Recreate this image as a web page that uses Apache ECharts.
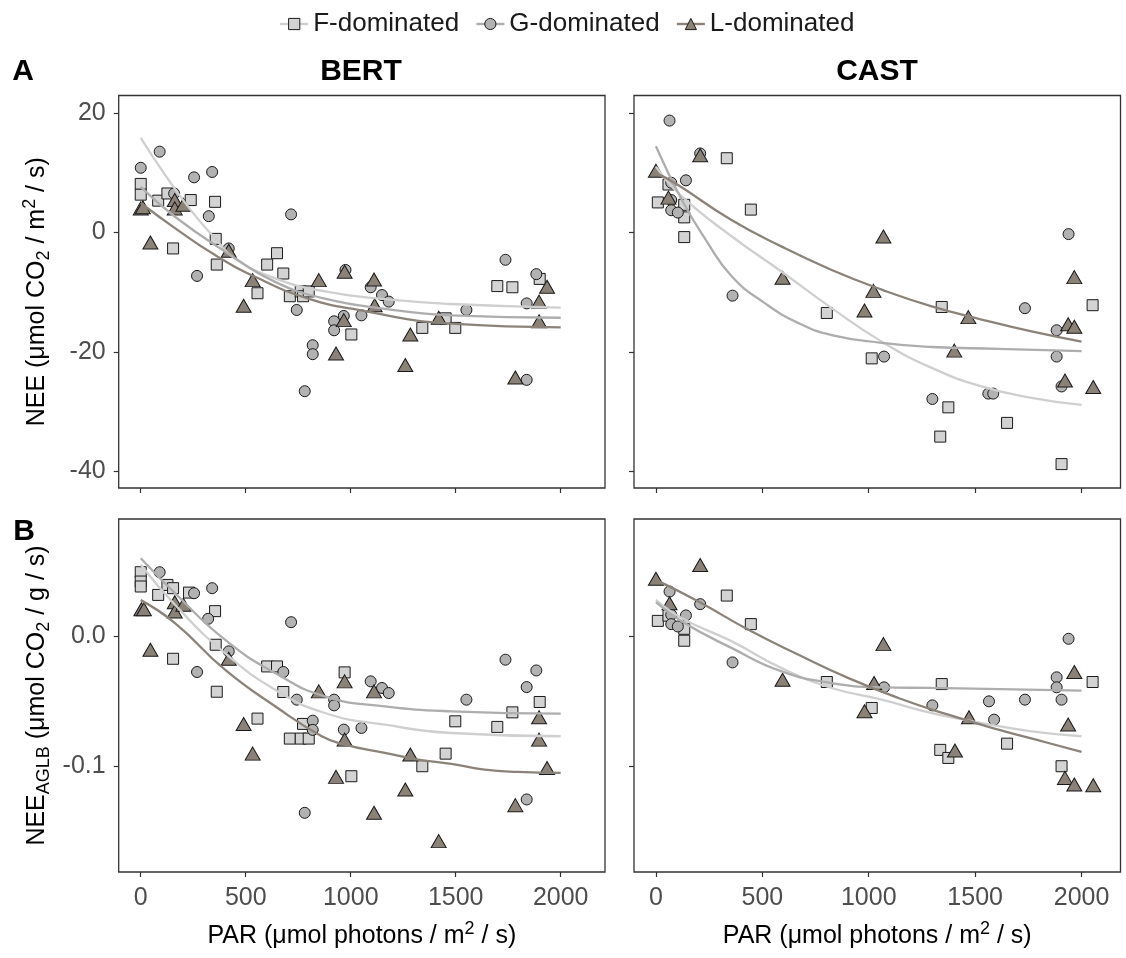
<!DOCTYPE html>
<html><head><meta charset="utf-8">
<script src="https://cdn.jsdelivr.net/npm/echarts@6/dist/echarts.min.js"></script>
<style>html,body{margin:0;padding:0;background:#fff}#c{width:1126px;height:958px}</style>
</head><body><div id="c"></div>
<script>
// ---------- data ----------
const groups = ['F-dominated', 'G-dominated', 'L-dominated'];
const panelTitles = ['BERT', 'CAST'];
const rowLetters = ['A', 'B'];
const parTicks = [0, 500, 1000, 1500, 2000];
const neeTicks = [-40, -20, 0, 20];
const aglbTicks = [-0.1, 0];

// Row A: NEE (µmol CO2/m2/s), BERT
const neeBertF = [[0,8.1],[0,6.3],[83,5.3],[127,6.5],[154,-2.7],[238,5.4],[354,5.1],[357,-1.1],[362,-5.4],[556,-10.2],[602,-5.4],[649,-3.5],[679,-6.9],[710,-10.7],[762,-9.9],[773,-10.7],[800,-9.9],[1003,-17.1],[1341,-16.0],[1452,-14.4],[1498,-16.0],[1698,-9.0],[1770,-9.2],[1900,-7.8]];
const neeBertG = [[0,10.8],[90,13.5],[159,6.5],[254,9.2],[268,-7.3],[324,2.7],[340,10.1],[419,-2.7],[716,3.0],[743,-13.0],[781,-26.6],[819,-18.9],[819,-20.4],[921,-14.9],[921,-16.4],[967,-14.0],[975,-6.3],[1051,-13.9],[1095,-9.2],[1149,-10.5],[1181,-11.6],[1551,-13.0],[1737,-4.6],[1838,-11.9],[1838,-24.7],[1884,-7.0]];
const neeBertL = [[0,4.0],[10,4.2],[46,-1.7],[162,5.4],[162,4.0],[203,4.6],[419,-3.1],[490,-12.3],[533,-8.0],[848,-8.0],[930,-20.3],[967,-14.7],[971,-6.6],[1111,-7.9],[1114,-12.2],[1260,-22.2],[1284,-17.1],[1419,-14.3],[1784,-24.3],[1897,-11.6],[1897,-14.9],[1935,-9.1]];
const neeBertFitF = [[0,15.8],[116,9.6],[243,3.5],[354,-1.0],[449,-4.4],[640,-7.7],[877,-9.9],[1163,-11.2],[1479,-12.0],[2000,-12.6]];
const neeBertFitG = [[0,7.6],[163,2.6],[401,-3.2],[640,-8.3],[877,-11.1],[1163,-12.8],[1479,-13.9],[2000,-14.3]];
const neeBertFitL = [[0,4.9],[163,0.7],[354,-3.8],[560,-7.7],[798,-11.1],[1036,-13.0],[1479,-15.3],[2000,-15.9]];

// Row A: NEE, CAST
const neeCastF = [[9,5.0],[59,8.0],[133,4.6],[133,2.5],[133,-0.8],[333,12.4],[446,3.8],[803,-13.5],[1014,-21.1],[1336,-34.2],[1343,-12.5],[1374,-29.3],[1650,-31.9],[1906,-38.8],[2052,-12.2]];
const neeCastG = [[64,18.7],[72,8.3],[72,5.4],[72,3.7],[103,3.3],[141,8.7],[208,13.2],[360,-10.6],[1072,-20.8],[1299,-27.9],[1562,-27.0],[1585,-27.0],[1734,-12.7],[1883,-16.4],[1883,-20.8],[1906,-25.8],[1939,-0.3]];
const neeCastL = [[0,10.3],[59,5.8],[208,12.9],[595,-7.6],[980,-13.1],[1022,-9.8],[1069,-0.7],[1402,-19.8],[1468,-14.2],[1922,-24.8],[1937,-15.4],[1966,-15.8],[1966,-7.5],[2055,-25.9]];
const neeCastFitF = [[0,11.0],[122,6.0],[357,-0.7],[591,-6.6],[826,-12.7],[1061,-18.3],[1296,-22.7],[1530,-25.8],[1765,-27.7],[2000,-28.9]];
const neeCastFitG = [[0,14.4],[122,5.4],[235,-1.3],[357,-7.4],[513,-11.9],[670,-15.2],[826,-17.2],[1061,-18.5],[1296,-19.2],[1609,-19.5],[2000,-19.9]];
const neeCastFitL = [[0,9.9],[91,8.2],[353,2.1],[591,-2.4],[826,-6.3],[1061,-9.6],[1296,-12.4],[1530,-14.6],[1765,-16.6],[2000,-18.3]];

// Row B: NEE_AGLB (µmol CO2/g/s), BERT
const aglbBertF = [[0,0.0495],[0,0.0423],[0,0.0385],[83,0.032],[127,0.0397],[154,0.0372],[154,-0.0172],[230,0.0338],[354,0.0195],[357,-0.0064],[362,-0.0426],[556,-0.0633],[602,-0.0231],[649,-0.0231],[679,-0.0428],[710,-0.0787],[762,-0.0787],[773,-0.0674],[800,-0.0787],[971,-0.0277],[1003,-0.1077],[1341,-0.1],[1452,-0.0903],[1498,-0.0654],[1698,-0.0697],[1770,-0.0585],[1900,-0.0505]];
const aglbBertG = [[90,0.0495],[254,0.0333],[268,-0.0274],[321,0.0136],[340,0.0372],[419,-0.0115],[679,-0.0274],[716,0.011],[743,-0.0487],[781,-0.1359],[819,-0.0649],[819,-0.072],[921,-0.0487],[921,-0.0531],[967,-0.0718],[1051,-0.0705],[1095,-0.0346],[1149,-0.0397],[1181,-0.0436],[1551,-0.0487],[1737,-0.0179],[1838,-0.039],[1838,-0.1256],[1884,-0.0262]];
const aglbBertL = [[3,0.021],[15,0.021],[46,-0.0103],[162,0.0264],[162,0.0192],[203,0.0244],[419,-0.0172],[490,-0.0674],[533,-0.0903],[848,-0.0423],[930,-0.1082],[971,-0.0346],[971,-0.0795],[1111,-0.0423],[1111,-0.1359],[1260,-0.1179],[1284,-0.091],[1419,-0.1577],[1784,-0.13],[1897,-0.0623],[1897,-0.0795],[1935,-0.1013]];
const aglbBertFitF = [[0,0.0552],[163,0.0244],[401,-0.0128],[640,-0.041],[877,-0.059],[1163,-0.068],[1479,-0.0744],[2000,-0.0769]];
const aglbBertFitG = [[0,0.0603],[163,0.0334],[401,-0.0025],[640,-0.0282],[877,-0.0462],[1163,-0.0538],[1479,-0.0577],[2000,-0.0595]];
const aglbBertFitL = [[0,0.028],[163,0.0103],[401,-0.0256],[640,-0.0538],[862,-0.0769],[971,-0.0833],[1162,-0.0897],[1321,-0.0949],[1479,-0.0982],[1638,-0.1026],[1797,-0.1044],[2000,-0.1051]];

// Row B: NEE_AGLB, CAST
const aglbCastF = [[9,0.012],[59,0.016],[133,0.0059],[133,-0.0033],[333,0.0315],[446,0.0095],[803,-0.0351],[1014,-0.0551],[1336,-0.0874],[1343,-0.0367],[1374,-0.0936],[1650,-0.0826],[1906,-0.1],[2052,-0.0351]];
const aglbCastG = [[64,0.0346],[72,0.0167],[72,0.0095],[103,0.0077],[141,0.0162],[208,0.0249],[360,-0.02],[1072,-0.0392],[1299,-0.0531],[1565,-0.05],[1589,-0.0641],[1734,-0.0487],[1883,-0.0315],[1883,-0.0392],[1906,-0.0487],[1939,-0.0018]];
const aglbCastL = [[0,0.0444],[64,0.0256],[208,0.0551],[595,-0.0333],[980,-0.0577],[1025,-0.0359],[1069,-0.0059],[1405,-0.0879],[1471,-0.0623],[1922,-0.109],[1937,-0.0679],[1966,-0.0274],[1966,-0.1141],[2055,-0.1146]];
const aglbCastFitF = [[0,0.0282],[122,0.0141],[357,-0.0038],[591,-0.0244],[826,-0.0397],[1061,-0.0487],[1296,-0.059],[1531,-0.0667],[1765,-0.0731],[2000,-0.0769]];
const aglbCastFitG = [[0,0.0264],[122,0.0115],[357,-0.009],[591,-0.0269],[826,-0.0359],[1061,-0.0392],[1296,-0.0397],[2000,-0.0418]];
const aglbCastFitL = [[0,0.0436],[200,0.0269],[435,0.0051],[670,-0.0141],[905,-0.0321],[1139,-0.0474],[1374,-0.0603],[1609,-0.0718],[1844,-0.0821],[2000,-0.089]];

// ---------- styling ----------
const FONT = '"Liberation Sans", Arial, Helvetica, sans-serif';
const pointFill = ['#d3d3d3', '#b2b2b2', '#8a8177'];
const lineColor = ['#cfcfcf', '#adadad', '#8b8379'];
const symbols = ['rect', 'circle', 'triangle'];
const symSizes = [11, 11, [15, 13]];
const EDGE = '#1a1a1a';
const AXC = '#333333';

const panels = [
  {pts: [neeBertF, neeBertG, neeBertL], fits: [neeBertFitF, neeBertFitG, neeBertFitL]},
  {pts: [neeCastF, neeCastG, neeCastL], fits: [neeCastFitF, neeCastFitG, neeCastFitL]},
  {pts: [aglbBertF, aglbBertG, aglbBertL], fits: [aglbBertFitF, aglbBertFitG, aglbBertFitL]},
  {pts: [aglbCastF, aglbCastG, aglbCastL], fits: [aglbCastFitF, aglbCastFitG, aglbCastFitL]}
];

const grids = [
  {left: 118.7, top: 95.5, width: 486.3, height: 392.5},
  {left: 634, top: 95.5, width: 486.5, height: 392.5},
  {left: 118.7, top: 519, width: 486.3, height: 353},
  {left: 634, top: 519, width: 486.5, height: 353}
].map(g => Object.assign(g, {show: true, borderColor: AXC, borderWidth: 1.3, backgroundColor: 'transparent', containLabel: false}));

const richStyles = {
  t: {fontSize: 25, fontFamily: FONT, color: '#000', lineHeight: 32},
  sub: {fontSize: 18, fontFamily: FONT, color: '#000', lineHeight: 18, verticalAlign: 'bottom'},
  sup: {fontSize: 18, fontFamily: FONT, color: '#000', lineHeight: 18, verticalAlign: 'top'}
};

const xRanges = [[-105, 2211], [-103, 2183], [-105, 2211], [-103, 2183]];
const yRanges = [[-42.8, 22.9], [-42.8, 22.9], [-0.1815, 0.0905], [-0.1815, 0.0905]];

const xAxes = grids.map((g, i) => ({
  type: 'value', gridIndex: i, min: xRanges[i][0], max: xRanges[i][1],
  position: 'bottom',
  axisLine: {show: false, onZero: false},
  splitLine: {show: false},
  axisTick: {show: true, length: 5, inside: false, lineStyle: {color: AXC, width: 1.2}, customValues: parTicks},
  axisLabel: {show: i >= 2, customValues: parTicks, fontSize: 25, fontFamily: FONT, color: '#4d4d4d', margin: 14,
    formatter: v => String(Math.round(v))},
  name: i >= 2 ? '{t|PAR (μmol photons / m}{sup|2}{t| / s)}' : '',
  nameLocation: 'middle', nameGap: 48,
  nameTextStyle: {fontSize: 25, fontFamily: FONT, color: '#000', rich: richStyles}
}));

const yAxes = grids.map((g, i) => {
  const top = i < 2;
  const ticks = top ? neeTicks : aglbTicks;
  return {
    type: 'value', gridIndex: i, min: yRanges[i][0], max: yRanges[i][1],
    position: 'left',
    axisLine: {show: false, onZero: false},
    splitLine: {show: false},
    axisTick: {show: true, length: 5, lineStyle: {color: AXC, width: 1.2}, customValues: ticks},
    axisLabel: {show: i % 2 === 0, customValues: ticks, fontSize: 25, fontFamily: FONT, color: '#4d4d4d', margin: 13,
      formatter: v => top ? String(Math.round(v)) : (Math.abs(v) < 1e-9 ? '0.0' : v.toFixed(1))},
    name: i === 0 ? '{t|NEE (μmol CO}{sub|2}{t| / m}{sup|2}{t| / s)}' : (i === 2 ? '{t|NEE}{sub|AGLB}{t| (μmol CO}{sub|2}{t| / g / s)}' : ''),
    nameLocation: 'middle', nameRotate: 90, nameGap: 66,
    nameTextStyle: {fontSize: 25, fontFamily: FONT, color: '#000', rich: richStyles}
  };
});

const series = [];
// fitted curves first (legend icons taken from them), drawn above points
panels.forEach((p, i) => {
  p.fits.forEach((fit, k) => {
    series.push({
      type: 'line', name: groups[k], xAxisIndex: i, yAxisIndex: i, data: fit,
      smooth: 0.5, showSymbol: false, symbol: symbols[k], symbolSize: symSizes[k],
      itemStyle: {color: pointFill[k], borderColor: EDGE, borderWidth: 1},
      lineStyle: {color: lineColor[k], width: 2.3}, z: 4, silent: true
    });
  });
});
panels.forEach((p, i) => {
  p.pts.forEach((pts, k) => {
    series.push({
      type: 'scatter', name: groups[k], xAxisIndex: i, yAxisIndex: i, data: pts,
      symbol: symbols[k], symbolSize: symSizes[k],
      itemStyle: {color: pointFill[k], borderColor: EDGE, borderWidth: 1, opacity: 1},
      z: 2 + k * 0.1
    });
  });
});

const option = {
  animation: false,
  backgroundColor: '#fff',
  legend: {
    top: 11, left: 279, padding: 0, itemGap: 16, itemWidth: 28, itemHeight: 14,
    textStyle: {fontSize: 26, fontFamily: FONT, color: '#1a1a1a'},
    selectedMode: false,
    data: groups.map((g, k) => ({
      name: g,
      itemStyle: {color: pointFill[k], borderColor: EDGE, borderWidth: 1},
      lineStyle: {color: lineColor[k], width: 2.4}
    }))
  },
  grid: grids,
  xAxis: xAxes,
  yAxis: yAxes,
  series: series,
  graphic: [
    {type: 'text', x: 361, y: 72, style: {text: panelTitles[0], font: 'bold 30px ' + FONT, fill: '#000', align: 'center', verticalAlign: 'middle'}},
    {type: 'text', x: 877, y: 72, style: {text: panelTitles[1], font: 'bold 30px ' + FONT, fill: '#000', align: 'center', verticalAlign: 'middle'}},
    {type: 'text', x: 23, y: 72, style: {text: rowLetters[0], font: 'bold 30px ' + FONT, fill: '#000', align: 'center', verticalAlign: 'middle'}},
    {type: 'text', x: 24, y: 532, style: {text: rowLetters[1], font: 'bold 30px ' + FONT, fill: '#000', align: 'center', verticalAlign: 'middle'}}
  ]
};

const chart = echarts.init(document.getElementById('c'), null, {renderer: 'canvas'});
chart.setOption(option);
</script></body></html>
